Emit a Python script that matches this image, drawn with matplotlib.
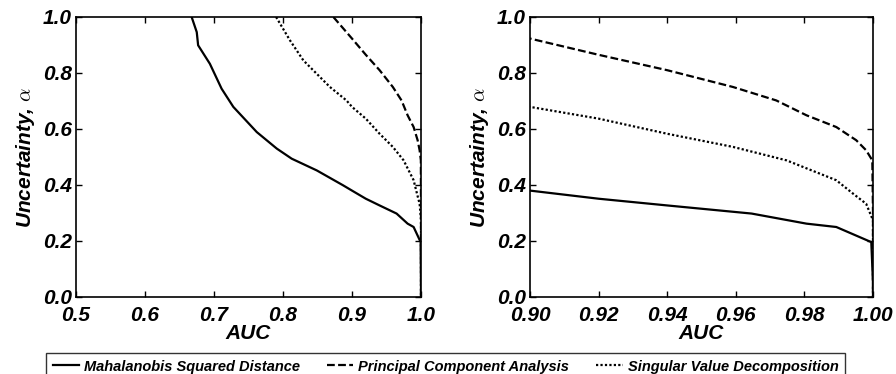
"""
AUC versus uncertainty for three damage-detection features, full and zoomed view.
"""

import matplotlib
matplotlib.use("Agg")
import matplotlib.pyplot as plt

plt.rcParams["font.family"] = ["Liberation Sans", "DejaVu Sans"]
plt.rcParams["mathtext.fontset"] = "cm"

# Mahalanobis squared distance
msd_auc = [0.6676, 0.675, 0.677, 0.694, 0.711, 0.728, 0.762, 0.791, 0.8126, 0.849,
           0.887, 0.90, 0.92, 0.94, 0.9646, 0.9806, 0.9893, 0.9995, 1.0, 1.0]
msd_alpha = [1.0, 0.946, 0.899, 0.833, 0.744, 0.679, 0.589, 0.530, 0.494, 0.452,
             0.399, 0.38, 0.351, 0.327, 0.298, 0.262, 0.25, 0.196, 0.05, 0.0]

# Principal component analysis
pca_auc = [0.873, 0.90, 0.92, 0.94, 0.9592, 0.9718, 0.9806, 0.9893, 0.9951,
           0.998, 0.9998, 1.0, 1.0]
pca_alpha = [1.0, 0.923, 0.865, 0.810, 0.75, 0.702, 0.649, 0.607, 0.56,
             0.524, 0.488, 0.3, 0.0]

# Singular value decomposition
svd_auc = [0.79, 0.81, 0.8295, 0.868, 0.892, 0.90, 0.92, 0.94, 0.9592, 0.9748,
           0.9893, 0.9942, 0.998, 1.0, 1.0]
svd_alpha = [1.0, 0.917, 0.845, 0.75, 0.702, 0.679, 0.637, 0.583, 0.536, 0.488,
             0.417, 0.369, 0.333, 0.274, 0.0]

series = [
    ("Mahalanobis Squared Distance", msd_auc, msd_alpha, "-"),
    ("Principal Component Analysis", pca_auc, pca_alpha, (0, (3.5, 1.5))),
    ("Singular Value Decomposition", svd_auc, svd_alpha, (0, (1, 1))),
]

left_ticks = [0.5, 0.6, 0.7, 0.8, 0.9, 1.0]
right_ticks = [0.90, 0.92, 0.94, 0.96, 0.98, 1.00]
y_ticks = [0.0, 0.2, 0.4, 0.6, 0.8, 1.0]

fig = plt.figure(figsize=(8.96, 3.74), dpi=100)
ax1 = fig.add_axes([76 / 896, 1 - 297 / 374, 345 / 896, 280 / 374])
ax2 = fig.add_axes([530 / 896, 1 - 297 / 374, 343 / 896, 280 / 374])

bold_it = dict(fontsize=15, fontweight="bold", fontstyle="italic")

for ax, xticks, fmt in [(ax1, left_ticks, "%.1f"), (ax2, right_ticks, "%.2f")]:
    for name, x, y, ls in series:
        ax.plot(x, y, color="black", linestyle=ls, linewidth=1.6, label=name)
    ax.set_xlim(xticks[0], xticks[-1])
    ax.set_ylim(0, 1)
    ax.set_xticks(xticks)
    ax.set_xticklabels([fmt % t for t in xticks], **bold_it)
    ax.set_yticks(y_ticks)
    ax.set_yticklabels(["%.1f" % t for t in y_ticks], **bold_it)
    ax.tick_params(direction="in", top=True, right=True, length=4, width=1)
    ax.tick_params(axis="x", pad=6.5)
    ax.tick_params(axis="y", pad=3)
    for sp in ax.spines.values():
        sp.set_linewidth(1.2)
    ax.set_xlabel("AUC", labelpad=-1, **bold_it)
    ax.set_ylabel(r"Uncertainty, $\alpha$", labelpad=4, **bold_it)

# legend box: top edge at y=353 px, runs off the bottom of the image
leg_top = 1 - 353 / 374
handles, labels = ax1.get_legend_handles_labels()
leg = fig.legend(handles, labels, loc="upper left",
                 bbox_to_anchor=(46 / 896, leg_top - 0.05, 799 / 896, 0.05),
                 mode="expand", ncol=3, frameon=True, fancybox=False,
                 edgecolor="black", prop=dict(size=10.5, weight="bold", style="italic"),
                 handlelength=1.8, handletextpad=0.35, borderpad=0.45,
                 borderaxespad=0)
leg.get_frame().set_linewidth(1.0)

fig.savefig("out.png", dpi=100)
